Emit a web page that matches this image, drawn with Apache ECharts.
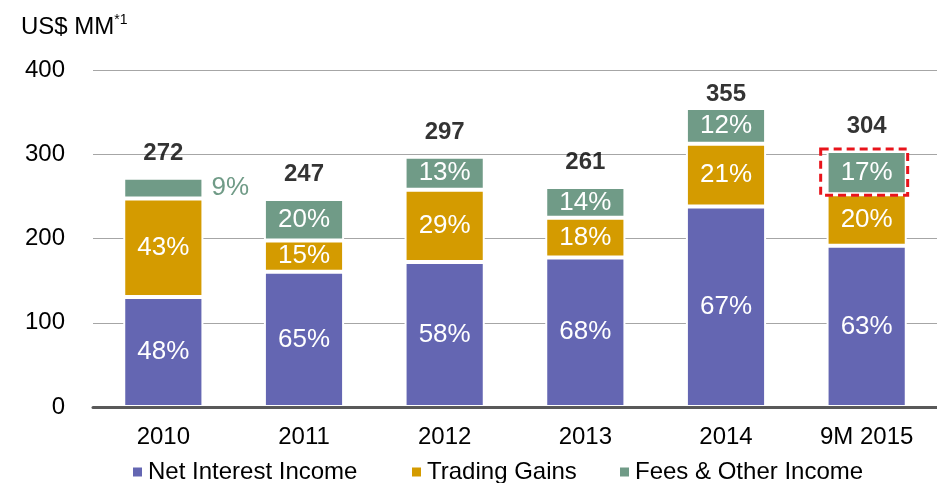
<!DOCTYPE html>
<html>
<head>
<meta charset="utf-8">
<script src="https://cdn.jsdelivr.net/npm/echarts@6/dist/echarts.min.js"></script>
<style>
  html, body { margin: 0; padding: 0; background: #fff; }
  #chart { width: 937px; height: 483px; }
</style>
</head>
<body>
<div id="chart"></div>
<script>
// values (US$ MM)
const categories = ['2010', '2011', '2012', '2013', '2014', '9M 2015'];
const netInterest = [130.5, 160.5, 172, 177.5, 238, 191.5];
const tradingGains = [117, 37, 86, 47, 74.5, 61];
const feesOther = [24.5, 49.5, 39, 36.5, 42.5, 51.5];
const totals = [272, 247, 297, 261, 355, 304];
const niiPct = ['48%', '65%', '58%', '68%', '67%', '63%'];
const tradingPct = ['43%', '15%', '29%', '18%', '21%', '20%'];
const feesPct = ['9%', '20%', '13%', '14%', '12%', '17%'];
const yTicks = [0, 100, 200, 300, 400];

const FONT = '"Liberation Sans", Arial, sans-serif';
const colors = { nii: '#6466b2', trading: '#d49b00', fees: '#709b87' };

const chart = echarts.init(document.getElementById('chart'));

const pctLabel = (arr) => ({
  show: true,
  position: 'inside',
  color: '#fff',
  fontSize: 26,
  fontFamily: FONT,
  textBorderWidth: 0,
  formatter: (p) => arr[p.dataIndex]
});

const barStyle = (c) => ({ color: c, borderColor: '#fff', borderWidth: 2 });

const option = {
  animation: false,
  textStyle: { fontFamily: FONT },
  title: {
    text: '{a|US$ MM}{b|*1}',
    left: 16,
    top: 8,
    textStyle: {
      rich: {
        a: { fontSize: 24, color: '#000', fontWeight: 'normal', fontFamily: FONT, lineHeight: 28 },
        b: { fontSize: 14, color: '#000', fontWeight: 'normal', fontFamily: FONT, verticalAlign: 'top', lineHeight: 28 }
      }
    }
  },
  legend: [
    { left: 126, name: 'Net Interest Income' },
    { left: 405, name: 'Trading Gains' },
    { left: 613, name: 'Fees & Other Income' }
  ].map(l => ({
    data: [l.name],
    left: l.left,
    top: 455,
    icon: 'rect',
    itemWidth: 11,
    itemHeight: 11,
    itemGap: 5,
    textStyle: { fontSize: 24, color: '#000', fontFamily: FONT }
  })),
  grid: { left: 93, top: 70, width: 855, height: 337 },
  xAxis: {
    type: 'category',
    data: categories,
    z: 10,
    axisLine: { lineStyle: { color: '#595959', width: 3 } },
    axisTick: { show: false },
    axisLabel: { fontSize: 24, color: '#000', margin: 18, fontFamily: FONT }
  },
  yAxis: {
    type: 'value',
    min: yTicks[0],
    max: yTicks[yTicks.length - 1],
    interval: 100,
    axisLine: { show: false },
    axisTick: { show: false },
    axisLabel: { fontSize: 24, color: '#000', margin: 28, fontFamily: FONT },
    splitLine: { lineStyle: { color: '#a6a6a6', width: 1 } }
  },
  series: [
    {
      name: 'Net Interest Income',
      type: 'bar',
      stack: 'rev',
      barWidth: '57%',
      data: netInterest,
      itemStyle: barStyle(colors.nii),
      label: pctLabel(niiPct)
    },
    {
      name: 'Trading Gains',
      type: 'bar',
      stack: 'rev',
      data: tradingGains,
      itemStyle: barStyle(colors.trading),
      label: pctLabel(tradingPct)
    },
    {
      name: 'Fees & Other Income',
      type: 'bar',
      stack: 'rev',
      data: feesOther.map((v, i) => i === 0
        ? { value: v, label: { position: 'right', distance: 8, color: colors.fees } }
        : v),
      itemStyle: barStyle(colors.fees),
      label: pctLabel(feesPct)
    },
    {
      name: 'Total',
      type: 'scatter',
      symbolSize: 1,
      itemStyle: { color: 'rgba(0,0,0,0)' },
      data: totals.map((v, i) => ({
        value: v,
        label: { distance: categories[i] === '2014' ? 1 : 12 }
      })),
      label: {
        show: true,
        position: 'top',
        fontSize: 24,
        fontWeight: 'bold',
        color: '#000',
        fontFamily: FONT
      },
      z: 5
    }
  ]
};

chart.setOption(option);

// dashed highlight box around the last fees segment
const last = categories.length - 1;
const topPt = chart.convertToPixel({ gridIndex: 0 }, [categories[last], totals[last]]);
const botPt = chart.convertToPixel({ gridIndex: 0 }, [categories[last], totals[last] - feesOther[last]]);
chart.setOption({
  graphic: [{
    type: 'rect',
    z: 100,
    shape: {
      x: topPt[0] - 46,
      y: topPt[1] - 2,
      width: 87,
      height: botPt[1] - topPt[1] + 3
    },
    style: { fill: 'none', stroke: '#e8141b', lineWidth: 3, lineDash: [8, 5] }
  }]
});
</script>
</body>
</html>
